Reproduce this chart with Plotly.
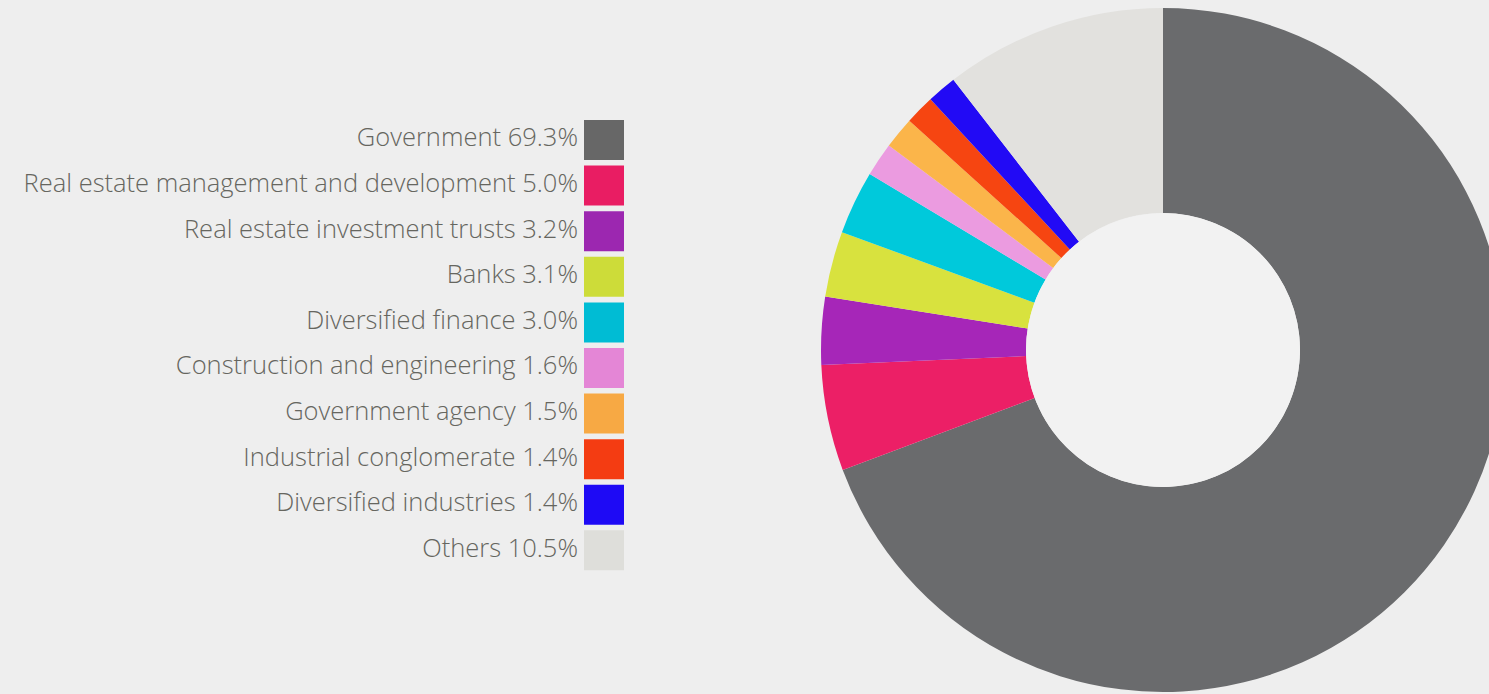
import plotly.graph_objects as go

sectors = ["Government", "Real estate management and development", "Real estate investment trusts",
           "Banks", "Diversified finance", "Construction and engineering", "Government agency",
           "Industrial conglomerate", "Diversified industries", "Others"]
shares = [69.3, 5.0, 3.2, 3.1, 3.0, 1.6, 1.5, 1.4, 1.4, 10.5]
slice_colors = ["#6a6b6d", "#ec1f66", "#a626b8", "#d8e23e", "#00c9db", "#eb9be0",
                "#fbb54a", "#f64511", "#220af5", "#e2e1de"]
swatch_colors = ["#676767", "#e91d63", "#9c27b0", "#cddc39", "#00bcd4", "#e486d6",
                 "#f7a944", "#f43c12", "#1e0af5", "#dededa"]

labels = [f"{s} {v:.1f}%" for s, v in zip(sectors, shares)]

# figure slightly wider than the window so the donut is cut at the right edge, as in the reference
W, H = 1505, 694
CX, CY, R, RH = 1163, 350, 342, 137
fig = go.Figure()

fig.add_trace(go.Pie(
    labels=sectors, values=shares, sort=False, direction="clockwise", rotation=0,
    hole=RH / R, marker=dict(colors=slice_colors, line=dict(width=0)),
    textinfo="none", hoverinfo="label+percent", showlegend=False,
    domain=dict(x=[(CX - R) / W, (CX + R) / W], y=[1 - (CY + R) / H, 1 - (CY - R) / H]),
))

fig.add_trace(go.Scatter(
    x=[0] * len(labels), y=list(range(len(labels))),
    mode="markers+text", text=labels, textposition="middle left",
    marker=dict(symbol="square", size=40, color=swatch_colors, line=dict(width=0)),
    textfont=dict(family="Open Sans", size=25.5, color="#66665f", weight=300),
    hoverinfo="text", showlegend=False,
))

fig.update_layout(
    width=W, height=H, margin=dict(l=0, r=0, t=0, b=0),
    paper_bgcolor="#eeeeee", plot_bgcolor="rgba(0,0,0,0)",
    xaxis=dict(range=[-604, W - 604], visible=False, fixedrange=True),
    yaxis=dict(range=[12.15, -3.07], visible=False, fixedrange=True),
    shapes=[dict(type="circle", xref="paper", yref="paper",
                 x0=(CX - RH) / W, x1=(CX + RH) / W,
                 y0=1 - (CY + RH) / H, y1=1 - (CY - RH) / H,
                 fillcolor="#f2f2f2", line=dict(width=0), layer="above")],
)

fig.write_html("out.html", config={"displayModeBar": False},
               post_script="document.body.style.margin='0';document.body.style.overflow='hidden';document.body.style.background='#eeeeee';")
